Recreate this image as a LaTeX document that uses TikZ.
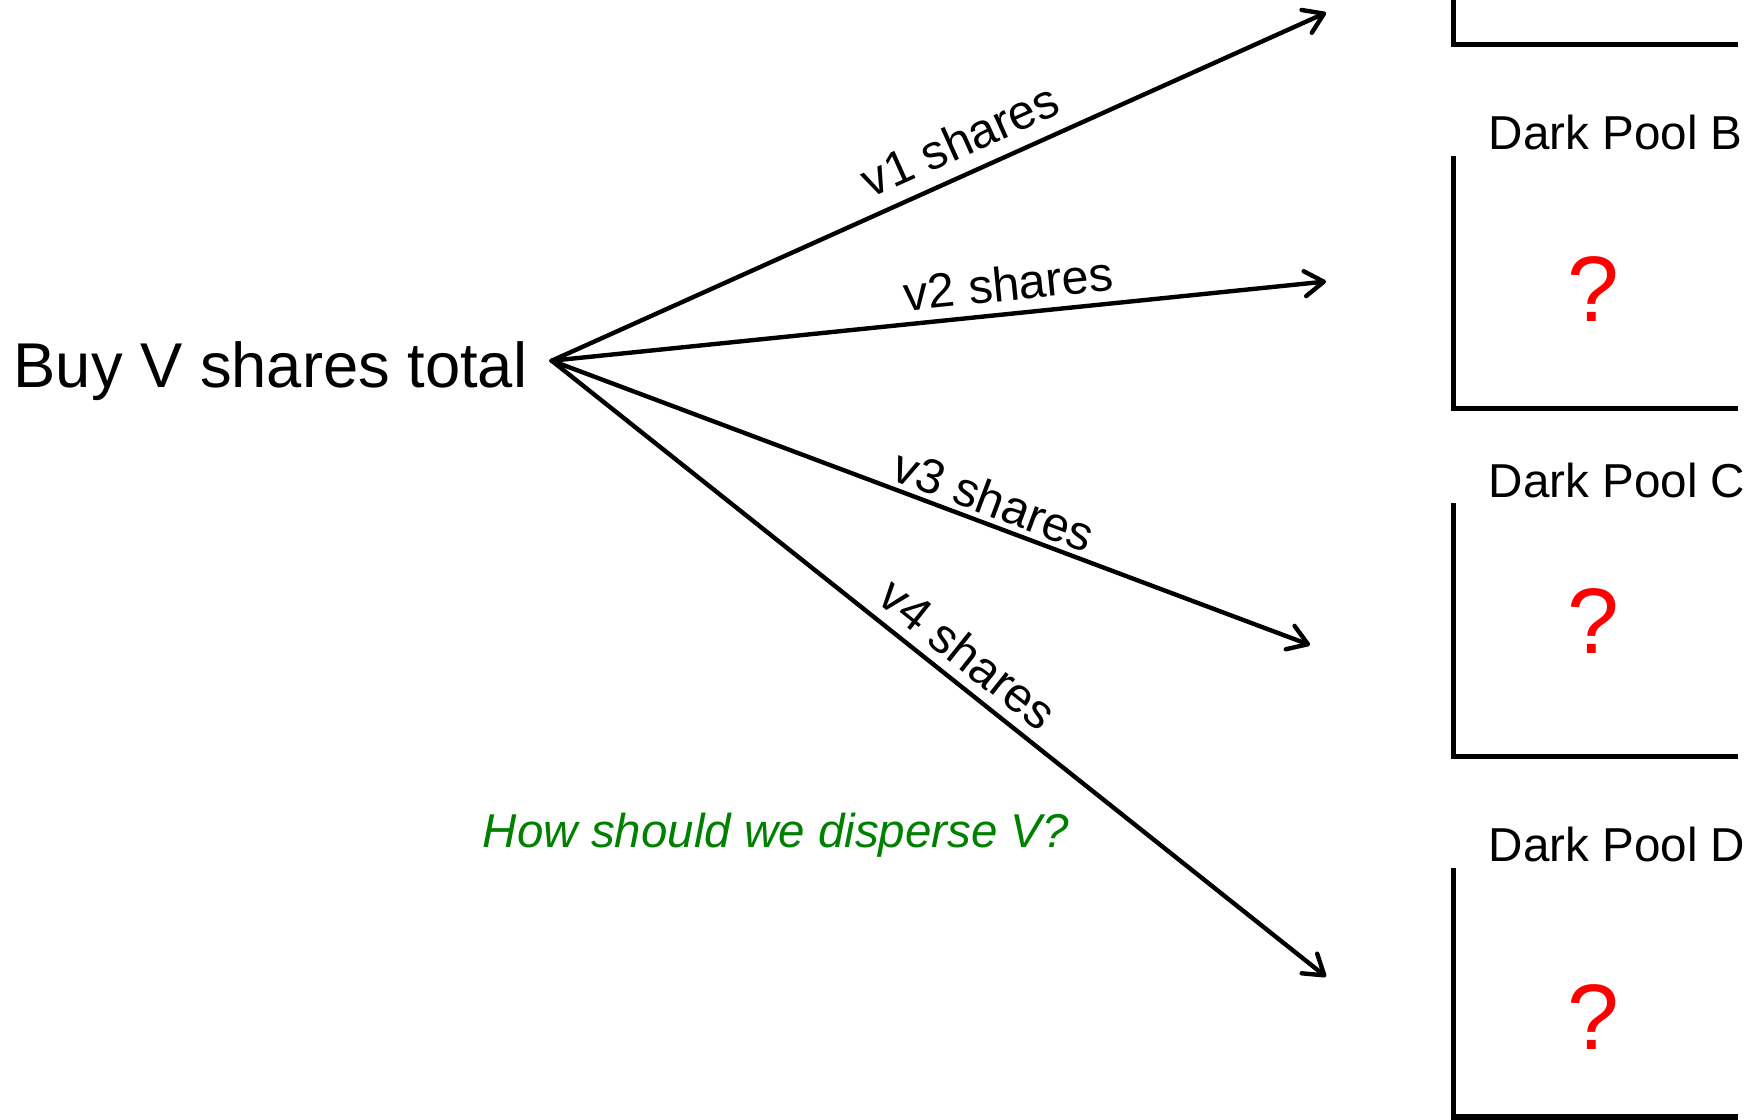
\documentclass[tikz,border=0pt]{standalone}
\usepackage{fontspec}
\setmainfont{Liberation Sans}
\usetikzlibrary{arrows.meta}
\definecolor{qred}{RGB}{255,0,0}
\definecolor{qgreen}{RGB}{0,128,0}
\begin{document}
\begin{tikzpicture}[x=1pt,y=-1pt,
  arr/.style={line width=4.4pt, line cap=round, -{Straight Barb[length=19pt,width=25pt,round]}},
  lbl/.style={font=\fontsize{48.5}{52}\selectfont, sloped, inner sep=2pt},
  pool/.style={line width=5.4pt, line join=miter},
  ttl/.style={font=\fontsize{47.6}{52}\selectfont, anchor=base west, inner sep=0pt},
  qm/.style={font=\fontsize{93}{100}\selectfont, text=qred, inner sep=0pt}]
\useasboundingbox (0,0) rectangle (1758,1119);

% source
\node[font=\fontsize{63.3}{70}\selectfont, anchor=base east, inner sep=0pt] (src) at (527.5,387) {Buy V shares total};
\coordinate (apex) at (551.7,360.7);

% arrow targets
\coordinate (t1) at (1326,12.7);
\coordinate (t2) at (1326,281.5);
\coordinate (t3) at (1310,645);
\coordinate (t4) at (1326,976.7);

\draw[arr] (apex) -- (t1) node[lbl, pos=0.545, above=12pt] (l1) {v1 shares};
\draw[arr] (apex) -- (t2) node[lbl, pos=0.594, above=8.5pt] (l2) {v2 shares};
\draw[arr] (apex) -- (t3) node[lbl, pos=0.572, above=3pt] (l3) {v3 shares};
\draw[arr] (apex) -- (t4) node[lbl, pos=0.514, above=8pt] (l4) {v4 shares};

% question
\node[font=\fontsize{47.5}{52}\selectfont\itshape, text=qgreen, inner sep=0pt] (q) at (776,835) {How should we disperse V?};

% dark pools
\draw[pool] (1453.3,-5) -- (1453.3,44.3) -- (1738,44.3);

\node[ttl] (tB) at (1488.5,149) {Dark Pool B};
\draw[pool] (1453.3,155.7) -- (1453.3,408.3) -- (1738,408.3);
\node[qm] (qB) at (1593,289) {?};

\node[ttl] (tC) at (1488.5,497.3) {Dark Pool C};
\draw[pool] (1453.3,503.3) -- (1453.3,756.7) -- (1738,756.7);
\node[qm] (qC) at (1593,621.3) {?};

\node[ttl] (tD) at (1488.5,861) {Dark Pool D};
\draw[pool] (1453.3,868.3) -- (1453.3,1117) -- (1738,1117);
\node[qm] (qD) at (1593,1016.7) {?};
\end{tikzpicture}
\end{document}
